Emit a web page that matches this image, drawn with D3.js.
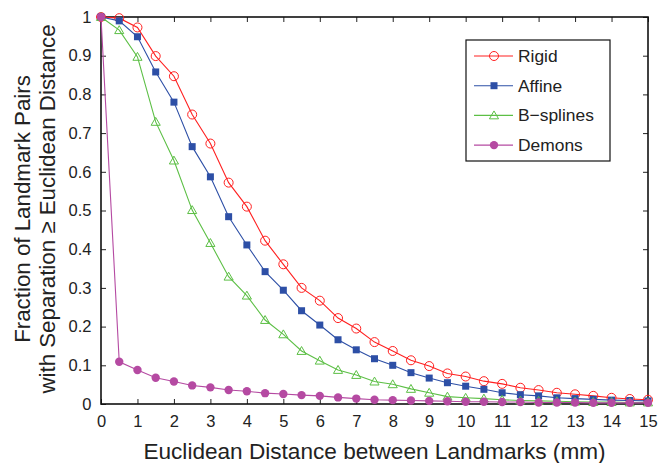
<!DOCTYPE html>
<html><head><meta charset="utf-8">
<script src="https://cdn.jsdelivr.net/npm/d3@7"></script>
<style>body{margin:0;background:#fff}svg{display:block}text{font-family:"Liberation Sans",Arial,Helvetica,sans-serif;fill:#222}</style>
</head><body>
<script>
const distances = [0,0.5,1,1.5,2,2.5,3,3.5,4,4.5,5,5.5,6,6.5,7,7.5,8,8.5,9,9.5,10,10.5,11,11.5,12,12.5,13,13.5,14,14.5,15];
const rigid = [1.0,0.997,0.973,0.899,0.847,0.748,0.673,0.572,0.510,0.422,0.361,0.300,0.267,0.222,0.195,0.160,0.137,0.113,0.098,0.079,0.071,0.059,0.052,0.042,0.036,0.029,0.025,0.021,0.016,0.013,0.011];
const affine = [1.0,0.990,0.949,0.858,0.780,0.665,0.587,0.484,0.411,0.342,0.294,0.241,0.204,0.166,0.140,0.117,0.100,0.081,0.067,0.055,0.046,0.038,0.029,0.024,0.021,0.016,0.014,0.012,0.010,0.009,0.008];
const bsplines = [1.0,0.966,0.897,0.729,0.629,0.501,0.416,0.329,0.280,0.217,0.180,0.137,0.112,0.088,0.075,0.058,0.051,0.039,0.029,0.019,0.016,0.014,0.011,0.009,0.008,0.007,0.006,0.005,0.005,0.004,0.004];
const demons = [1.0,0.109,0.088,0.068,0.058,0.048,0.043,0.036,0.033,0.028,0.026,0.023,0.021,0.017,0.014,0.011,0.010,0.009,0.008,0.007,0.006,0.006,0.005,0.005,0.004,0.004,0.004,0.003,0.003,0.003,0.003];
const xTicks = [0,1,2,3,4,5,6,7,8,9,10,11,12,13,14,15];
const yTicks = [0,0.1,0.2,0.3,0.4,0.5,0.6,0.7,0.8,0.9,1];
const seriesNames = ["Rigid","Affine","B\u2212splines","Demons"];
const seriesValues = [rigid, affine, bsplines, demons];
const seriesColors = ["#ff2020","#2d4fa6","#5cbf45","#b54aa2"];
const seriesMarkers = ["circle","square","triangle","dot"];

const W = 665, H = 463;
const m = {left:101, right:665-648, top:17, bottom:463-404};
const svg = d3.select("body").append("svg").attr("width",W).attr("height",H);
const x = d3.scaleLinear().domain([0,15]).range([m.left, W-m.right]);
const y = d3.scaleLinear().domain([0,1]).range([H-m.bottom, m.top]);

// axes
const fmt = d => d3.format("")(d);
svg.append("g").attr("transform",`translate(0,${y(0)})`)
  .call(d3.axisBottom(x).tickValues(xTicks).tickSizeInner(-5).tickSizeOuter(0).tickPadding(11).tickFormat(fmt))
  .call(g=>{g.select(".domain").remove();g.selectAll("text").attr("font-size",16.5).attr("fill","#222");g.selectAll("line").attr("stroke","#222");});
svg.append("g").attr("transform",`translate(0,${y(1)})`)
  .call(d3.axisTop(x).tickValues(xTicks).tickSizeInner(-5).tickSizeOuter(0).tickFormat(""))
  .call(g=>{g.select(".domain").remove();g.selectAll("line").attr("stroke","#222");});
svg.append("g").attr("transform",`translate(${x(0)},0)`)
  .call(d3.axisLeft(y).tickValues(yTicks).tickSizeInner(-5).tickSizeOuter(0).tickPadding(9.5).tickFormat(fmt))
  .call(g=>{g.select(".domain").remove();g.selectAll("text").attr("font-size",16.5).attr("fill","#222");g.selectAll("line").attr("stroke","#222");});
svg.append("g").attr("transform",`translate(${x(15)},0)`)
  .call(d3.axisRight(y).tickValues(yTicks).tickSizeInner(-5).tickSizeOuter(0).tickFormat(""))
  .call(g=>{g.select(".domain").remove();g.selectAll("line").attr("stroke","#222");});
svg.append("rect").attr("x",x(0)).attr("y",y(1)).attr("width",x(15)-x(0)).attr("height",y(0)-y(1))
  .attr("fill","none").attr("stroke","#111").attr("stroke-width",1.6);

function marker(g, type, color, cx, cy){
  if(type==="circle") g.append("circle").attr("cx",cx).attr("cy",cy).attr("r",4.5).attr("fill","none").attr("stroke",color).attr("stroke-width",1);
  else if(type==="square") g.append("rect").attr("x",cx-3.5).attr("y",cy-3.5).attr("width",7).attr("height",7).attr("fill",color);
  else if(type==="triangle") g.append("path").attr("d",d3.symbol(d3.symbolTriangle,36)()).attr("transform",`translate(${cx},${cy+0.8})`).attr("fill","none").attr("stroke",color).attr("stroke-width",1);
  else g.append("circle").attr("cx",cx).attr("cy",cy).attr("r",4.2).attr("fill",color);
}

const line = d3.line().x(d=>x(d[0])).y(d=>y(d[1]));
seriesValues.forEach((vals,i)=>{
  const pts = distances.map((d,j)=>[d,vals[j]]);
  const g = svg.append("g");
  g.append("path").datum(pts).attr("d",line).attr("fill","none").attr("stroke",seriesColors[i]).attr("stroke-width",1.1);
  pts.forEach(p=>marker(g, seriesMarkers[i], seriesColors[i], x(p[0]), y(p[1])));
});

// legend
const lg = svg.append("g");
lg.append("rect").attr("x",466).attr("y",40).attr("width",144).attr("height",121).attr("fill","#fff").attr("stroke","#111").attr("stroke-width",1.2);
seriesNames.forEach((n,i)=>{
  const yy = 56 + i*29.7;
  lg.append("line").attr("x1",474).attr("x2",513).attr("y1",yy).attr("y2",yy).attr("stroke",seriesColors[i]).attr("stroke-width",1.1);
  marker(lg, seriesMarkers[i], seriesColors[i], 494, yy);
  lg.append("text").attr("x",518).attr("y",yy).attr("dy","0.35em").attr("font-size",17.4).text(n);
});

// titles
svg.append("text").attr("x",(x(0)+x(15))/2).attr("y",459).attr("text-anchor","middle").attr("font-size",22.6).text("Euclidean Distance between Landmarks (mm)");
svg.append("text").attr("transform","translate(30,209) rotate(-90)").attr("text-anchor","middle").attr("font-size",22.3).text("Fraction of Landmark Pairs");
svg.append("text").attr("transform","translate(55,209) rotate(-90)").attr("text-anchor","middle").attr("font-size",22.3).text("with Separation \u2265 Euclidean Distance");
</script>
</body></html>
